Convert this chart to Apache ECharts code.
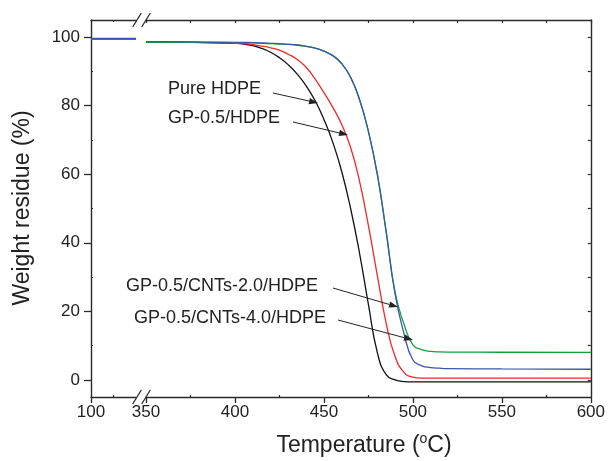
<!DOCTYPE html>
<html><head><meta charset="utf-8">
<script src="https://cdn.jsdelivr.net/npm/echarts@6/dist/echarts.min.js"></script>
<style>html,body{margin:0;padding:0;background:#fff}#c{width:608px;height:461px}</style>
</head><body><div id="c"></div>
<script>
// ---- data ----
const leftTemps = [100, 200, 300, 350];
const pureLeft  = [99.5, 99.5, 99.5, 99.5];
const gpLeft    = [99.5, 99.5, 99.5, 99.5];
const cnt20Left = [99.6, 99.6, 99.6, 99.6];
const cnt40Left = [99.4, 99.4, 99.4, 99.4];

const temps    = [350, 375, 400, 405, 410, 415, 420, 425, 430, 435, 440, 445, 450, 455, 460, 465, 470, 475, 480, 485, 490, 495, 500, 505, 510, 515, 520, 550, 600];
const pureHDPE = [98.6, 98.5, 98.2, 98.0, 97.5, 96.7, 95.6, 94.0, 91.9, 89.2, 85.8, 81.5, 76.0, 69.3, 60.8, 50.0, 37.0, 22.0, 8.0, 1.5, 0.0, -0.5, -0.6, -0.6, -0.6, -0.6, -0.6, -0.6, -0.6];
const gpHDPE   = [98.6, 98.5, 98.2, 98.1, 97.8, 97.4, 96.9, 96.2, 95.0, 93.5, 91.2, 87.8, 83.8, 79.5, 74.5, 67.8, 58.0, 45.0, 30.5, 16.5, 6.8, 2.2, 0.8, 0.5, 0.5, 0.5, 0.5, 0.5, 0.5];
const cnt20    = [98.7, 98.6, 98.5, 98.45, 98.4, 98.3, 98.2, 98.1, 97.9, 97.7, 97.3, 96.8, 95.9, 94.6, 92.3, 88.3, 81.8, 72.5, 60.0, 43.0, 25.0, 13.5, 5.8, 4.1, 3.6, 3.4, 3.3, 3.2, 3.1];
const cnt40    = [98.5, 98.5, 98.4, 98.35, 98.3, 98.2, 98.1, 98.0, 97.9, 97.7, 97.3, 96.8, 95.9, 94.6, 92.3, 88.3, 81.8, 72.5, 60.0, 43.3, 25.5, 16.3, 10.2, 8.8, 8.3, 8.15, 8.1, 8.05, 8.0];

const seriesNames = ['Pure HDPE', 'GP-0.5/HDPE', 'GP-0.5/CNTs-2.0/HDPE', 'GP-0.5/CNTs-4.0/HDPE'];
const xLeftTicks = [100];
const xLeftMinor = [225];
const yTicks = [0, 20, 40, 60, 80, 100];
const yMinor = [10, 30, 50, 70, 90];
const yRightTicks = [0, 10, 20, 30, 40, 50, 60, 70, 80, 90, 100];
const xRightMinor = [375, 425, 475, 525, 575];

// ---- chart ----
const FONT = "'Liberation Sans', Arial, sans-serif";
const AX = '#2a2a2a';
const colors = ['#111111', '#f02828', '#3a56a8', '#14a03c'];

function pairs(xs, ys) { return xs.map((x, i) => [x, ys[i]]); }

function arrow(x1, y1, x2, y2) {
  const dx = x2 - x1, dy = y2 - y1, L = Math.hypot(dx, dy), ux = dx / L, uy = dy / L;
  const hl = 9, hw = 3.2;
  const bx = x2 - ux * hl, by = y2 - uy * hl;
  return [
    { type: 'line', z: 100, shape: { x1: x1, y1: y1, x2: bx, y2: by }, style: { stroke: '#222', lineWidth: 1 } },
    { type: 'polygon', z: 100, shape: { points: [[x2, y2], [bx - uy * hw, by + ux * hw], [bx + uy * hw, by - ux * hw]] }, style: { fill: '#222' } }
  ];
}
function slash(cx, cy) {
  return { type: 'line', z: 100, shape: { x1: cx - 4.3, y1: cy + 7, x2: cx + 4.3, y2: cy - 7 }, style: { stroke: AX, lineWidth: 1.3 } };
}
function label(text, x, y) {
  return { type: 'text', z: 100, x: x, y: y, style: { text: text, fontSize: 18, fontFamily: FONT, fill: '#222', align: 'left', verticalAlign: 'middle' } };
}

const baseAxis = {
  type: 'value',
  splitLine: { show: false },
  axisLine: { show: true, onZero: false, lineStyle: { color: AX, width: 1.4 } },
  axisLabel: { show: false },
  axisTick: { show: false }
};
function ax(o) { return Object.assign({}, JSON.parse(JSON.stringify(baseAxis)), o); }
const noLine = { show: false, onZero: false };

const lblStyle = { show: true, fontSize: 17, fontFamily: FONT, color: '#222' };

const option = {
  animation: false,
  backgroundColor: '#fff',
  grid: [
    { left: 91, top: 20, width: 45, bottom: 64 },
    { left: 146, top: 20, right: 15, bottom: 64 }
  ],
  xAxis: [
    ax({ gridIndex: 0, position: 'bottom', min: 100, max: 350,
      axisLabel: Object.assign({ customValues: xLeftTicks, margin: 7 }, lblStyle),
      axisTick: { show: true, customValues: xLeftTicks, length: 6, lineStyle: { color: AX, width: 1.3 } } }),
    ax({ gridIndex: 0, position: 'bottom', min: 100, max: 350, axisLine: noLine,
      axisTick: { show: true, inside: true, customValues: xLeftMinor, length: 2, lineStyle: { color: AX, width: 1.2 } } }),
    ax({ gridIndex: 0, position: 'top', min: 100, max: 350,
      axisTick: { show: true, inside: true, customValues: xLeftMinor, length: 2, lineStyle: { color: AX, width: 1.2 } } }),
    ax({ gridIndex: 1, position: 'bottom', min: 350, max: 600, interval: 50,
      axisLabel: Object.assign({ margin: 7 }, lblStyle),
      axisTick: { show: true, length: 6, lineStyle: { color: AX, width: 1.3 } } }),
    ax({ gridIndex: 1, position: 'bottom', min: 350, max: 600, axisLine: noLine,
      axisTick: { show: true, inside: true, customValues: xRightMinor, length: 2, lineStyle: { color: AX, width: 1.2 } } }),
    ax({ gridIndex: 1, position: 'top', min: 350, max: 600, interval: 25,
      axisTick: { show: true, inside: true, length: 3, lineStyle: { color: AX, width: 1.2 } } })
  ],
  yAxis: [
    ax({ gridIndex: 0, position: 'left', min: -5, max: 105,
      axisLabel: Object.assign({ customValues: yTicks, margin: 11 }, lblStyle),
      axisTick: { show: true, customValues: yTicks, length: 7, lineStyle: { color: AX, width: 1.3 } } }),
    ax({ gridIndex: 0, position: 'left', min: -5, max: 105, axisLine: noLine,
      axisTick: { show: true, inside: true, customValues: yMinor, length: 2, lineStyle: { color: AX, width: 1.2 } } }),
    ax({ gridIndex: 1, position: 'right', min: -5, max: 105,
      axisTick: { show: true, inside: true, customValues: yRightTicks, length: 3, lineStyle: { color: AX, width: 1.2 } } })
  ],
  series: [],
  graphic: { elements: [] }
};

const leftData = [pureLeft, gpLeft, cnt40Left, cnt20Left];
const rightData = [pureHDPE, gpHDPE, cnt40, cnt20];
const order = [0, 1, 3, 2];
order.forEach((ci, k) => {
  option.series.push({
    name: seriesNames[ci], type: 'line', xAxisIndex: 0, yAxisIndex: 0,
    data: pairs(leftTemps, leftData[k]), showSymbol: false, symbol: 'none',
    lineStyle: { color: colors[ci], width: 1.3 }, itemStyle: { color: colors[ci] }
  });
  option.series.push({
    name: seriesNames[ci], type: 'line', xAxisIndex: 3, yAxisIndex: 2,
    data: pairs(temps, rightData[k]), showSymbol: false, symbol: 'none',
    smooth: 0.5,
    lineStyle: { color: colors[ci], width: 1.3 }, itemStyle: { color: colors[ci] }
  });
});

const g = option.graphic.elements;
g.push(slash(137, 20), slash(146, 20), slash(137, 397), slash(146, 397));
g.push(label(seriesNames[0], 168, 89), label(seriesNames[1], 168, 118),
       label(seriesNames[2], 126, 286), label(seriesNames[3], 134, 318));
g.push(...arrow(273, 93, 318, 103), ...arrow(293, 122, 348, 135),
       ...arrow(333, 288, 398, 307), ...arrow(338, 320, 413, 340));
g.push({ type: 'text', z: 100, x: 22.5, y: 208, rotation: Math.PI / 2,
  style: { text: 'Weight residue (%)', fontSize: 23, fontFamily: FONT, fill: '#222', align: 'center', verticalAlign: 'middle' } });
g.push({ type: 'text', z: 100, x: 364, y: 446,
  style: { text: '{a|Temperature (}{s|o}{a|C)}', align: 'center', verticalAlign: 'middle',
    rich: { a: { fontSize: 23, fontFamily: FONT, fill: '#222' },
            s: { fontSize: 14, fontFamily: FONT, fill: '#222', padding: [0, 0, 14, 0] } } } });

const chart = echarts.init(document.getElementById('c'), null, { renderer: 'canvas' });
chart.setOption(option);
</script>
</body></html>
